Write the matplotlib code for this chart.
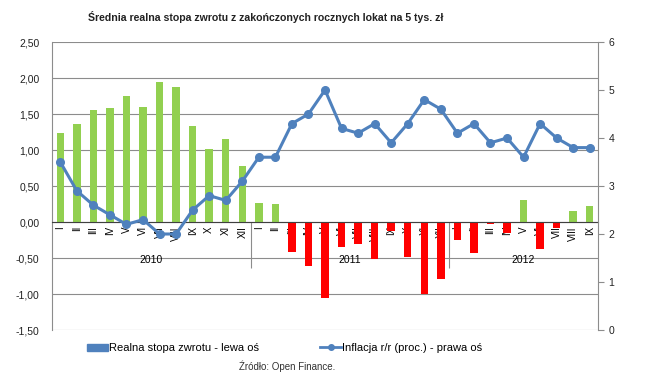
import numpy as np
import matplotlib
matplotlib.use("Agg")
import matplotlib.pyplot as plt
from matplotlib.lines import Line2D
from matplotlib.patches import Patch
from matplotlib.ticker import FuncFormatter
from matplotlib import font_manager

plt.rcParams['font.family'] = ['Liberation Sans', 'DejaVu Sans']

# data
months = ["I", "II", "III", "IV", "V", "VI", "VII", "VIII", "IX", "X", "XI", "XII",
          "I", "II", "III", "IV", "V", "VI", "VII", "VIII", "IX", "X", "XI", "XII",
          "I", "II", "III", "IV", "V", "VI", "VII", "VIII", "IX"]
years = ["2010", "2011", "2012"]
year_len = [12, 12, 9]
real_rate = [1.23, 1.36, 1.56, 1.59, 1.75, 1.60, 1.94, 1.88, 1.33, 1.02, 1.15, 0.78,
             0.27, 0.25, -0.42, -0.61, -1.05, -0.35, -0.30, -0.51, -0.12, -0.49, -1.00, -0.79,
             -0.25, -0.43, -0.03, -0.15, 0.31, -0.38, -0.08, 0.15, 0.22]
inflation = [3.5, 2.9, 2.6, 2.4, 2.2, 2.3, 2.0, 2.0, 2.5, 2.8, 2.7, 3.1,
             3.6, 3.6, 4.3, 4.5, 5.0, 4.2, 4.1, 4.3, 3.9, 4.3, 4.8, 4.6,
             4.1, 4.3, 3.9, 4.0, 3.6, 4.3, 4.0, 3.8, 3.8]

green = "#92D050"
red = "#FF0000"
blue = "#4F81BD"
grid_c = "#8C8C8C"

x = np.arange(len(months))
fig = plt.figure(figsize=(6.47, 3.84), dpi=100)
ax = fig.add_axes([0.0804, 0.1406, 0.8439, 0.75])

cols = [green if v >= 0 else red for v in real_rate]
ax.bar(x, real_rate, width=0.45, color=cols, zorder=2)
ax.set_ylim(-1.5, 2.5)
ax.set_xlim(-0.5, len(months) - 0.5)
ax.set_yticks(np.arange(-1.5, 2.51, 0.5))
ax.yaxis.set_major_formatter(FuncFormatter(lambda v, p: f"{v:.2f}".replace(".", ",")))
ax.grid(axis='y', color=grid_c, lw=0.8, zorder=0)
ax.tick_params(axis='y', labelsize=7.5, length=0, pad=9, colors="#222222")

# category axis crossing at zero
ax.spines['bottom'].set_position(('data', 0))
ax.spines['bottom'].set_color("#404040")
ax.spines['top'].set_visible(False)
ax.spines['left'].set_color(grid_c)
ax.spines['right'].set_visible(False)
ax.set_xticks(x)
ax.set_xticklabels(months, rotation=90, fontsize=7)
ax.tick_params(axis='x', length=0, pad=3)

# year labels and separators
start = 0
for yr, n in zip(years, year_len):
    ax.text(start + (n - 1) / 2, -0.53, yr, ha='center', va='center', fontsize=7.5)
    if start > 0:
        ax.vlines(start - 0.5, -0.64, 0, color=grid_c, lw=0.8, zorder=1)
    start += n

ax2 = ax.twinx()
ax2.plot(x, inflation, color=blue, lw=2.2, marker='o', markersize=5.5, zorder=3)
ax2.set_ylim(0, 6)
ax2.set_yticks(range(0, 7))
ax2.tick_params(axis='y', labelsize=7.5, length=4, direction='out', color=grid_c, colors="#222222")
ax2.tick_params(axis='y', color=grid_c)
for s in ['top', 'bottom', 'left']:
    ax2.spines[s].set_visible(False)
ax2.spines['right'].set_color(grid_c)

# narrow bold title if the narrow face is there
names = {f.name for f in font_manager.fontManager.ttflist}
if 'Liberation Sans Narrow' in names:
    tfam, tsize = ['Liberation Sans Narrow', 'DejaVu Sans'], 9.2
else:
    tfam, tsize = ['Liberation Sans', 'DejaVu Sans'], 7.6
fig.text(0.411, 0.955, "Średnia realna stopa zwrotu z zakończonych rocznych lokat na 5 tys. zł",
         ha='center', va='center', fontsize=tsize, fontweight='bold', color="#222222",
         family=tfam)

handles = [Patch(color=blue), Line2D([0], [0], color=blue, lw=2, marker='o', markersize=4)]
labels = ["Realna stopa zwrotu - lewa oś", "Inflacja r/r (proc.) - prawa oś"]
fig.legend(handles, labels, loc='center', bbox_to_anchor=(0.44, 0.093), ncol=2,
           frameon=False, fontsize=8, handlelength=1.9, handletextpad=0.1, columnspacing=5.5)

fig.text(0.444, 0.047, "Źródło: Open Finance.", ha='center', va='center', fontsize=7, color="#333333")

fig.savefig("out.png", dpi=100)
